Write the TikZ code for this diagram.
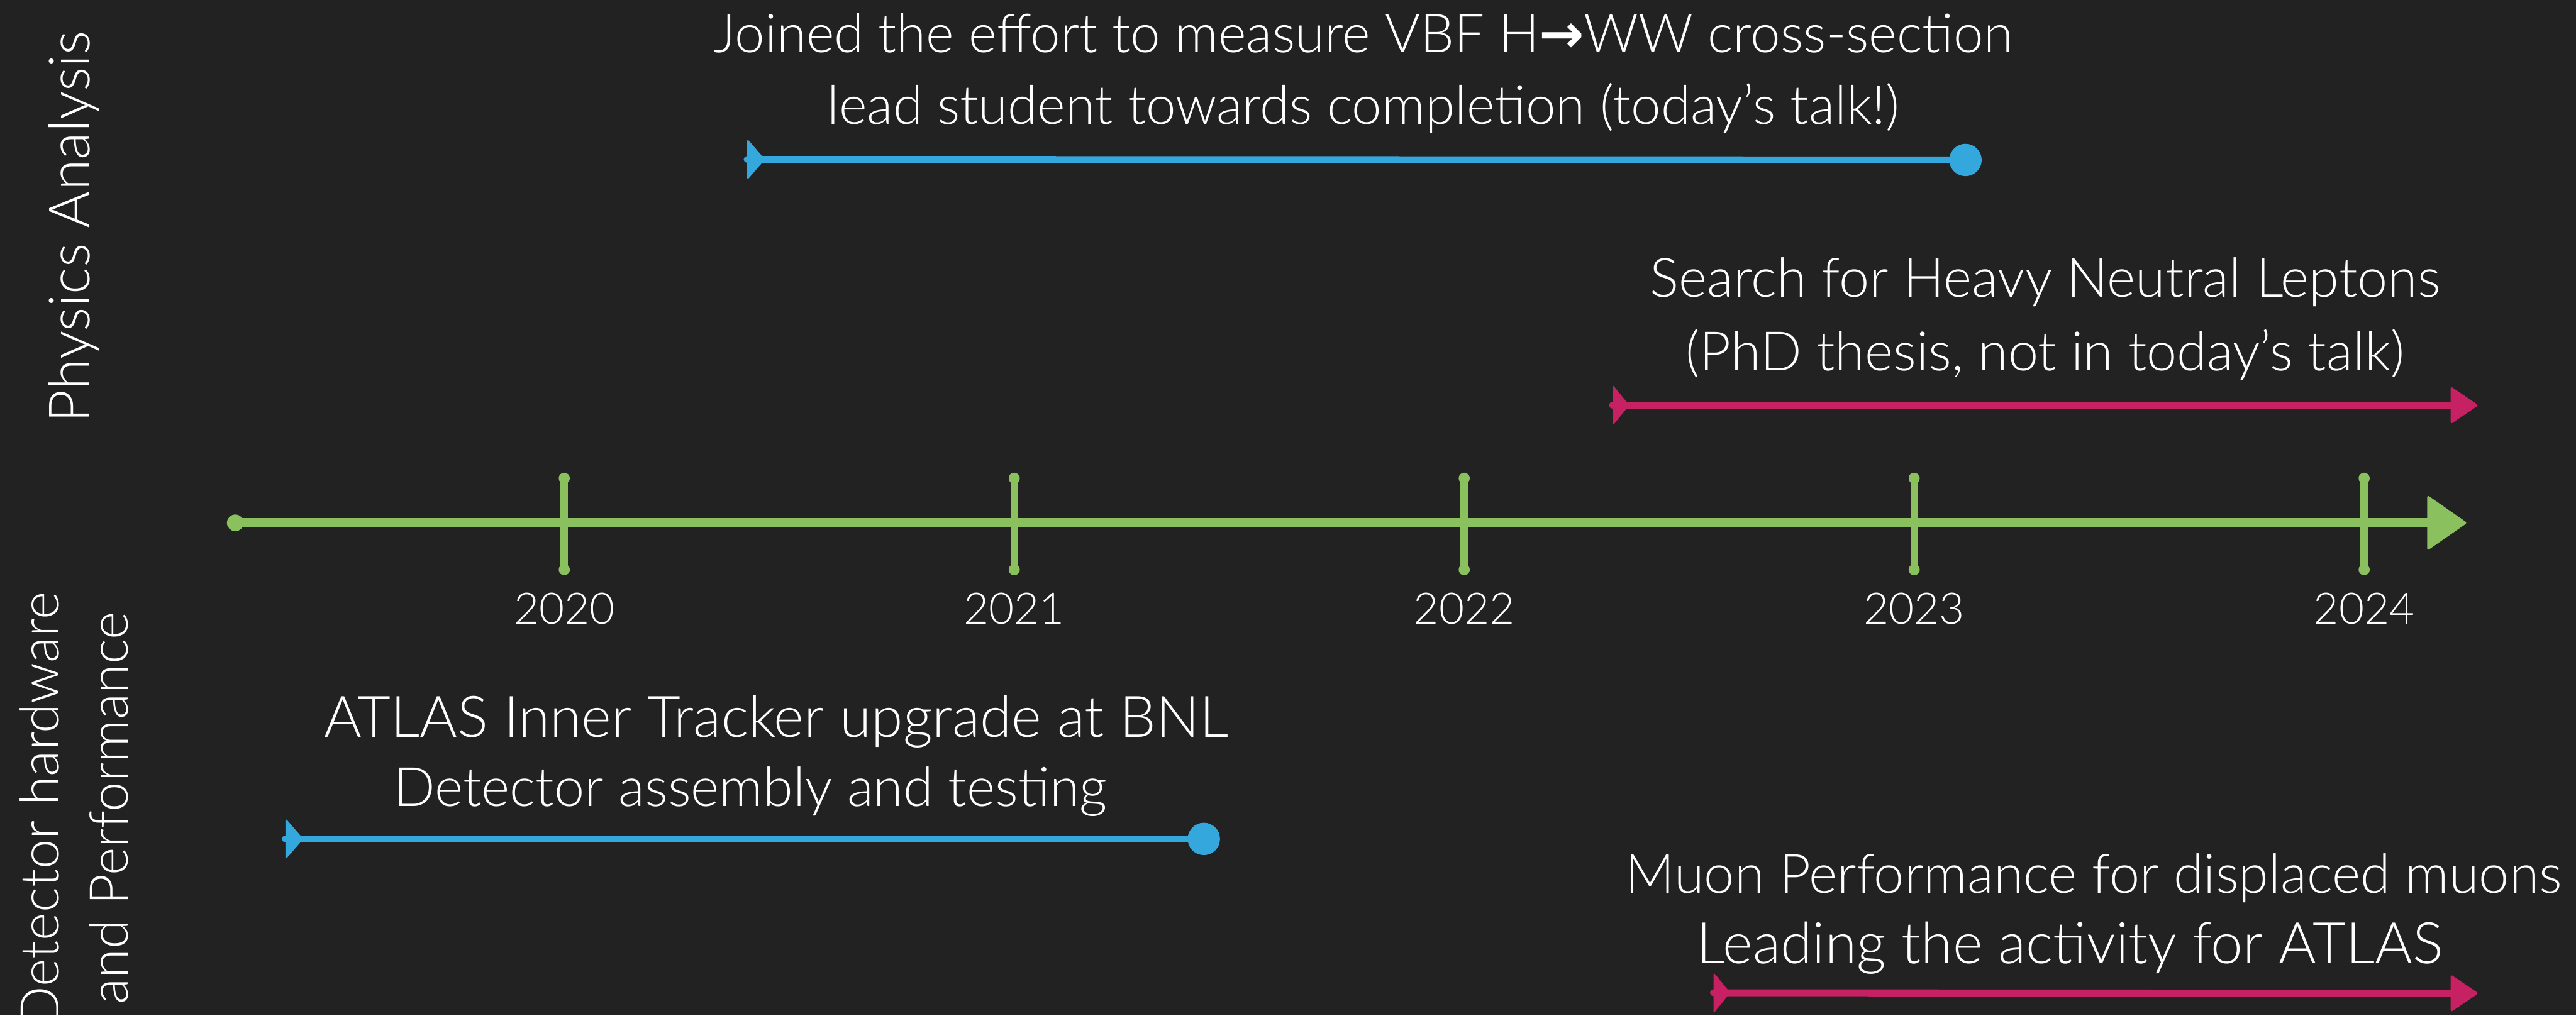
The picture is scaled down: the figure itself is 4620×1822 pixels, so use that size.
\documentclass[tikz,border=0pt]{standalone}
\usepackage{fontspec}
\setmainfont{Lato}[UprightFont=* Light]
\newfontfamily\arrowfont{DejaVu Sans}
\definecolor{bg}{RGB}{34,34,34}
\definecolor{tlgreen}{RGB}{139,192,94}
\definecolor{tlblue}{RGB}{52,167,220}
\definecolor{tlpink}{RGB}{198,33,98}
\begin{document}
\begin{tikzpicture}[x=0.1pt,y=-0.1pt,
  txt/.style={text=white, inner sep=0pt, anchor=base, font=\fontsize{9.75}{11}\selectfont},
  yr/.style={text=white, inner sep=0pt, anchor=base, font=\fontsize{7.8}{9}\selectfont},
  side/.style={text=white, inner sep=0pt, rotate=90, font=\fontsize{10.2}{12}\selectfont},
  bar/.style={line width=1.25pt, line cap=round},
  axisline/.style={draw=tlgreen, line width=1.7pt, line cap=round},
  tickline/.style={draw=tlgreen, line width=1.3pt, line cap=round},
  tipfill/.style={rounded corners=0.4pt}
]
\clip (0,0) rectangle (4620,1822);
\fill[bg] (0,0) rectangle (4620,1822);

% time axis
\coordinate (a0) at (422,938);
\coordinate (a1) at (4425,938);
\fill[tlgreen] (a0) circle[radius=15];
\draw[axisline] (a0) -- ([xshift=-2pt]a1);
\fill[tlgreen, tipfill] (a1) -- ++(-72,-50) -- ++(0,100) -- cycle;
\foreach \x/\yy [count=\i] in {1012/2020,1819/2021,2626/2022,3433/2023,4240/2024}{
  \coordinate (tk\i a) at (\x,858);
  \coordinate (tk\i b) at (\x,1022);
  \draw[tickline] (tk\i a) -- (tk\i b);
  \fill[tlgreen] (tk\i a) circle[radius=10];
  \fill[tlgreen] (tk\i b) circle[radius=10];
  \node[yr] (yr\i) at (\x,1120) {\yy};
}

% blue bar 1
\coordinate (b1s) at (1340,286);
\coordinate (b1e) at (3525,287);
\draw[bar, draw=tlblue] (b1s) -- (b1e);
\fill[tlblue, tipfill] (b1s) ++(0,-37) -- ++(32,37) -- ++(-32,37) -- cycle;
\fill[tlblue] (b1e) circle[radius=29];
% pink bar 1
\coordinate (p1s) at (2892,727);
\coordinate (p1e) at (4445,727);
\draw[bar, draw=tlpink] (p1s) -- ([xshift=-2pt]p1e);
\fill[tlpink, tipfill] (p1s) ++(0,-37) -- ++(30,37) -- ++(-30,37) -- cycle;
\fill[tlpink, tipfill] (p1e) -- ++(-50,-34) -- ++(0,68) -- cycle;
% blue bar 2
\coordinate (b2s) at (512,1505);
\coordinate (b2e) at (2159,1505);
\draw[bar, draw=tlblue] (b2s) -- (b2e);
\fill[tlblue, tipfill] (b2s) ++(0,-37) -- ++(32,37) -- ++(-32,37) -- cycle;
\fill[tlblue] (b2e) circle[radius=29];
% pink bar 2
\coordinate (p2s) at (3073,1781);
\coordinate (p2e) at (4445,1782);
\draw[bar, draw=tlpink] (p2s) -- ([xshift=-2pt]p2e);
\fill[tlpink, tipfill] (p2s) ++(0,-37) -- ++(30,37) -- ++(-30,37) -- cycle;
\fill[tlpink, tipfill] (p2e) -- ++(-50,-34) -- ++(0,68) -- cycle;

% texts
\node[txt, font=\fontsize{9.63}{11}\selectfont] (j1) at (2445,94) {Joined the effort to measure VBF H{\arrowfont\bfseries →}WW cross-section};
\node[txt, font=\fontsize{9.63}{11}\selectfont] (j2) at (2445,223) {lead student towards completion (today’s talk!)};
\node[txt] (s1) at (3668,533) {Search for Heavy Neutral Leptons};
\node[txt] (s2) at (3668,665) {(PhD thesis, not in today’s talk)};
\node[txt, font=\fontsize{10.3}{12}\selectfont] (c1) at (1392,1322) {ATLAS Inner Tracker upgrade at BNL};
\node[txt] (c2) at (1346,1446) {Detector assembly and testing};
\node[txt] (m1) at (3755,1602) {Muon Performance for displaced muons};
\node[txt, font=\fontsize{10.3}{12}\selectfont] (m2) at (3712,1729) {Leading the activity for ATLAS};

% side labels
\node[side, anchor=base] (pa) at (161,407) {Physics Analysis};
\node[side, anchor=base east, font=\fontsize{9.6}{11}\selectfont] (dh) at (106,1060) {Detector hardware};
\node[side, anchor=base east, font=\fontsize{9.6}{11}\selectfont] (dp) at (230,1096) {and Performance};
\end{tikzpicture}
\end{document}
